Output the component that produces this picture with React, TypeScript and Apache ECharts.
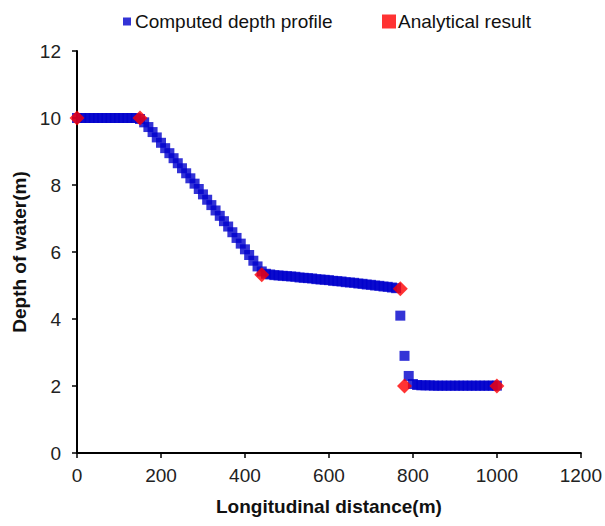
import React, { useEffect, useRef } from "react";
import * as echarts from "echarts";

const computedDistance = [
  0, 10, 20, 30, 40, 50, 60, 70, 80, 90,
  100, 110, 120, 130, 140, 150, 160, 170, 180, 190,
  200, 210, 220, 230, 240, 250, 260, 270, 280, 290,
  300, 310, 320, 330, 340, 350, 360, 370, 380, 390,
  400, 410, 420, 430, 440, 450, 460, 470, 480, 490,
  500, 510, 520, 530, 540, 550, 560, 570, 580, 590,
  600, 610, 620, 630, 640, 650, 660, 670, 680, 690,
  700, 710, 720, 730, 740, 750, 760, 770, 780, 790,
  800, 810, 820, 830, 840, 850, 860, 870, 880, 890,
  900, 910, 920, 930, 940, 950, 960, 970, 980, 990,
  1000,
];
const computedDepth = [
  10.0, 10.0, 10.0, 10.0, 10.0, 10.0, 10.0, 10.0, 10.0, 10.0,
  10.0, 10.0, 10.0, 10.0, 10.0, 9.97, 9.87, 9.73, 9.58, 9.42,
  9.26, 9.1, 8.95, 8.8, 8.65, 8.5, 8.35, 8.2, 8.04, 7.88,
  7.72, 7.56, 7.4, 7.24, 7.08, 6.92, 6.76, 6.59, 6.42, 6.25,
  6.08, 5.91, 5.74, 5.57, 5.42, 5.35, 5.33, 5.31, 5.3, 5.29,
  5.28, 5.27, 5.26, 5.24, 5.23, 5.22, 5.21, 5.19, 5.18, 5.17,
  5.16, 5.14, 5.13, 5.12, 5.1, 5.09, 5.08, 5.06, 5.05, 5.03,
  5.02, 5.0, 4.99, 4.97, 4.96, 4.94, 4.92, 4.1, 2.9, 2.3,
  2.06, 2.03, 2.02, 2.02, 2.02, 2.01, 2.01, 2.01, 2.01, 2.01,
  2.01, 2.01, 2.01, 2.01, 2.01, 2.01, 2.01, 2.01, 2.01, 2.01,
  2.01,
];
const analyticalDistance = [0, 150, 440, 770, 780, 1000];
const analyticalDepth = [10.0, 10.0, 5.32, 4.9, 2.0, 2.0];

const xTicks = [0, 200, 400, 600, 800, 1000, 1200];
const yTicks = [0, 2, 4, 6, 8, 10, 12];

const FONT = "Arial, 'Liberation Sans', sans-serif";
const FS = 19;

export default function App() {
  const ref = useRef<HTMLDivElement>(null);
  useEffect(() => {
    if (!ref.current) return;
    const chart = echarts.init(ref.current, undefined, { renderer: "svg" });
    chart.setOption({
      animation: false,
      backgroundColor: "#ffffff",
      legend: [
        {
          data: ["Computed depth profile"],
          left: 118,
          top: 7,
          icon: "rect",
          itemWidth: 8,
          itemHeight: 8,
          textStyle: { fontFamily: FONT, fontSize: FS, color: "#111", padding: [0, 0, 0, -1] },
        },
        {
          data: ["Analytical result"],
          left: 377,
          top: 7,
          icon: "rect",
          itemWidth: 14,
          itemHeight: 14,
          textStyle: { fontFamily: FONT, fontSize: FS, color: "#111", padding: [0, 0, 0, -3] },
        },
      ],
      grid: { left: 77, right: 24, top: 51, bottom: 73 },
      xAxis: {
        type: "value",
        min: xTicks[0],
        max: xTicks[xTicks.length - 1],
        interval: xTicks[1] - xTicks[0],
        name: "Longitudinal distance(m)",
        nameLocation: "middle",
        nameGap: 44,
        nameTextStyle: { fontFamily: FONT, fontSize: FS, fontWeight: "bold", color: "#111" },
        axisLine: { show: true, lineStyle: { color: "#000", width: 2 } },
        axisTick: { show: true, length: 5, lineStyle: { color: "#000", width: 1.5 } },
        axisLabel: {
          fontFamily: FONT,
          fontSize: FS,
          color: "#222",
          margin: 13,
          formatter: (v: number) => String(v),
        },
        splitLine: { show: false },
      },
      yAxis: {
        type: "value",
        min: yTicks[0],
        max: yTicks[yTicks.length - 1],
        interval: yTicks[1] - yTicks[0],
        name: "Depth of water(m)",
        nameLocation: "middle",
        nameGap: 47,
        nameRotate: 90,
        nameTextStyle: { fontFamily: FONT, fontSize: FS, fontWeight: "bold", color: "#111" },
        axisLine: { show: true, lineStyle: { color: "#000", width: 2 } },
        axisTick: { show: true, length: 5, lineStyle: { color: "#000", width: 1.5 } },
        axisLabel: {
          fontFamily: FONT,
          fontSize: FS,
          color: "#222",
          margin: 16,
          formatter: (v: number) => String(v),
        },
        splitLine: { show: false },
      },
      series: [
        {
          name: "Computed depth profile",
          type: "scatter",
          symbol: "rect",
          symbolSize: 10,
          itemStyle: { color: "#0000cc" },
          data: computedDistance.map((x, i) => [x, computedDepth[i]]),
          z: 2,
        },
        {
          name: "Analytical result",
          type: "scatter",
          symbol: "diamond",
          symbolSize: 15,
          itemStyle: { color: "#ff0000" },
          data: analyticalDistance.map((x, i) => [x, analyticalDepth[i]]),
          z: 3,
        },
      ],
    });
    return () => chart.dispose();
  }, []);
  return (
    <div
      ref={ref}
      style={{ position: "fixed", left: 0, top: 0, width: 605, height: 526, background: "#fff" }}
    />
  );
}
